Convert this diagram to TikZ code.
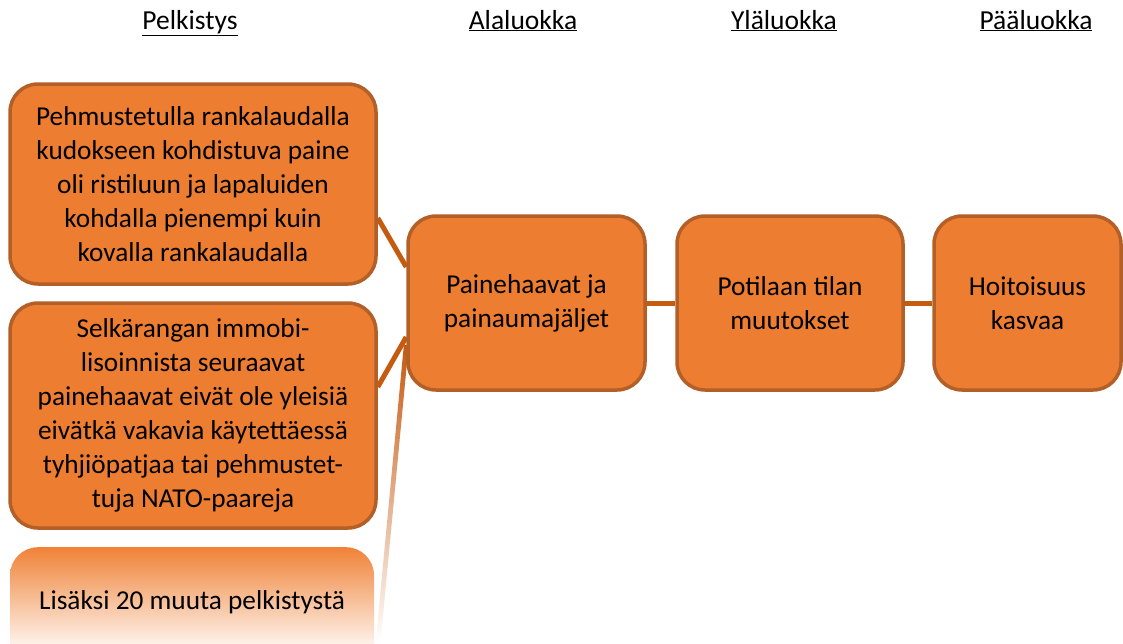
\documentclass[tikz,border=0pt]{standalone}
\usepackage{fontspec}
\setmainfont{Carlito}
\usetikzlibrary{calc,backgrounds}
\definecolor{boxfill}{RGB}{237,125,49}
\definecolor{boxline}{RGB}{178,95,40}
\definecolor{linkc}{RGB}{197,90,17}
\definecolor{fadetop}{RGB}{240,130,55}
\pgfdeclareverticalshading{fadebox}{100bp}{color(0bp)=(white); color(37bp)=(white); color(75bp)=(fadetop); color(100bp)=(fadetop)}
\begin{document}
\begin{tikzpicture}[x=1pt,y=-1pt,
  box/.style={draw=boxline, line width=3.5pt, fill=boxfill, rounded corners=28pt,
    align=center, font=\fontsize{27.3}{34}\selectfont, inner sep=0pt,
    execute at begin node={\rule{0pt}{33pt}}},
  fadedbox/.style={rounded corners=28pt, shade, shading=fadebox, inner sep=0pt},
  txt/.style={align=center, font=\fontsize{27.3}{34}\selectfont, inner sep=0pt},
  link/.style={draw=linkc, line width=5pt},
  head/.style={font=\fontsize{27.5}{32}\selectfont, anchor=base, inner sep=0pt}]
\useasboundingbox (0,0) rectangle (1123,643);
% headers
\node[head] (h1) at (190,29) {\underline{Pelkistys}};
\node[head] (h2) at (523,29) {\underline{Alaluokka}};
\node[head] (h3) at (784,29) {\underline{Yläluokka}};
\node[head] (h4) at (1036,29) {\underline{Pääluokka}};
% left boxes
\node[box, minimum width=366pt, minimum height=200pt] (b1) at (193,184)
  {Pehmustetulla rankalaudalla\\kudokseen kohdistuva paine\\oli ristiluun ja lapaluiden\\kohdalla pienempi kuin\\kovalla rankalaudalla};
\node[box, minimum width=366pt, minimum height=225pt] (b2) at (193,415.5)
  {Selkärangan immobi-\\lisoinnista seuraavat\\painehaavat eivät ole yleisiä\\eivätkä vakavia käytettäessä\\tyhjiöpatjaa tai pehmustet-\\tuja NATO-paareja};
\node[fadedbox, minimum width=364pt, minimum height=143pt, anchor=north] (b3) at (192,547) {};
\node[txt] (b3t) at (192,602) {Lisäksi 20 muuta pelkistystä};
% right boxes
\node[box, minimum width=237pt, minimum height=174pt] (a) at (526.5,303) {Painehaavat ja\\painaumajäljet};
\node[box, minimum width=226pt, minimum height=174pt] (b) at (790,303) {Potilaan tilan\\muutokset};
\node[box, minimum width=187pt, minimum height=174pt] (c) at (1027.5,303) {Hoitoisuus\\kasvaa};
\coordinate (fend) at (378,643);
% connectors
\begin{scope}[on background layer]
\draw[link] ($(b1.east)+(0,34)$) -- ($(a.west)+(0,-36)$);
\draw[link] ($(b2.east)+(0,-28.5)$) -- ($(a.west)+(0,34)$);
\shade[top color=linkc, bottom color=white]
  ($(a.west)+(-2.4,42)$) -- ($(a.west)+(2.4,42)$) -- ($(fend)+(2.4,0)$) -- ($(fend)+(-2.4,0)$) -- cycle;
\draw[link] (a.east) -- (b.west);
\draw[link] (b.east) -- (c.west);
\end{scope}
\end{tikzpicture}
\end{document}
